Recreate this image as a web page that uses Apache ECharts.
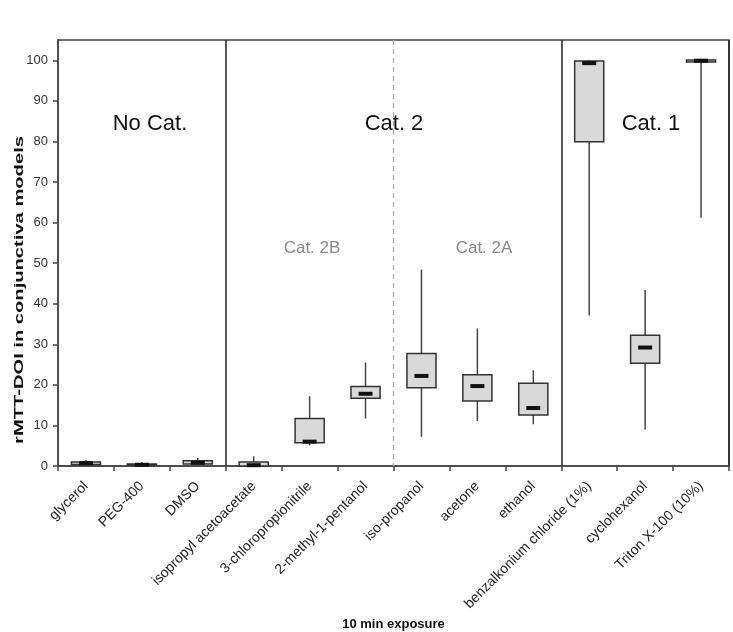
<!DOCTYPE html>
<html>
<head>
    <meta charset="UTF-8">
    <script src="https://cdn.jsdelivr.net/npm/echarts@6/dist/echarts.min.js"></script>
    <title>rMTT-DOI</title>
    <style>
        html, body { margin: 0; padding: 0; background: #fff; }
    </style>
</head>
<body>
    <div id="main" style="width:733px;height:632px;"></div>
    <script type="text/javascript">
        // substances (x axis)
        var categories = ['glycerol', 'PEG-400', 'DMSO', 'isopropyl acetoacetate', '3-chloropropionitrile',
            '2-methyl-1-pentanol', 'iso-propanol', 'acetone', 'ethanol', 'benzalkonium chloride (1%)',
            'cyclohexanol', 'Triton X-100 (10%)'];
        // box plot values
        var boxMin    = [0.3, 0.0, 0.3, 0.0, 5.1, 11.7, 7.2, 11.1, 10.3, 37.1, 9.0, 61.2];
        var boxQ1     = [0.4, 0.1, 0.5, 0.0, 5.7, 16.7, 19.3, 16.0, 12.6, 79.9, 25.3, 99.6];
        var boxMedian = [0.7, 0.3, 0.8, 0.2, 6.0, 17.8, 22.2, 19.7, 14.3, 99.3, 29.2, 99.9];
        var boxQ3     = [1.0, 0.5, 1.3, 1.0, 11.7, 19.6, 27.7, 22.5, 20.4, 99.8, 32.2, 100.1];
        var boxMax    = [1.4, 1.0, 2.0, 2.4, 17.2, 25.5, 48.4, 33.9, 23.6, 100.0, 43.4, 100.1];
        var yTicks = [0, 10, 20, 30, 40, 50, 60, 70, 80, 90, 100];
        // group borders: solid between categories, dashed between 2B and 2A
        var solidBreaks = [3, 9];
        var dashedBreak = 6;

        var rows = categories.map(function (c, i) {
            return [i, boxMin[i], boxQ1[i], boxMedian[i], boxQ3[i], boxMax[i]];
        });

        var font = 'Arial, "Liberation Sans", sans-serif';
        var myChart = echarts.init(document.getElementById('main'));

        function renderBox(params, api) {
            var x = api.value(0);
            var pMin = api.coord([x, api.value(1)]);
            var pQ1 = api.coord([x, api.value(2)]);
            var pMed = api.coord([x, api.value(3)]);
            var pQ3 = api.coord([x, api.value(4)]);
            var pMax = api.coord([x, api.value(5)]);
            var band = api.size([1, 0])[0];
            var bw = band * 0.52;
            var mw = 14;
            var children = [];
            if (x === dashedBreak) {
                var cs = params.coordSys;
                var xb = pMed[0] - band / 2;
                children.push({ type: 'line', shape: { x1: xb, y1: cs.y, x2: xb, y2: cs.y + cs.height },
                    style: { stroke: '#aaa', lineWidth: 1.2, lineDash: [5, 4] } });
            }
            children.push(
                { type: 'line', shape: { x1: pMin[0], y1: pMin[1], x2: pMax[0], y2: pMax[1] },
                  style: { stroke: '#444', lineWidth: 1.5 } },
                { type: 'rect', shape: { x: pQ3[0] - bw / 2, y: pQ3[1], width: bw, height: Math.max(pQ1[1] - pQ3[1], 1) },
                  style: { fill: '#d9d9d9', stroke: '#333', lineWidth: 1.5 } },
                { type: 'rect', shape: { x: pMed[0] - mw / 2, y: pMed[1] - 2, width: mw, height: 4 },
                  style: { fill: '#111' } }
            );
            return { type: 'group', children: children };
        }

        var option = {
            animation: false,
            grid: { left: 58, right: 4, top: 40, bottom: 166, show: true, borderColor: '#444', borderWidth: 1.5,
                outerBoundsMode: 'none', containLabel: false },
            xAxis: {
                type: 'category',
                data: categories,
                axisLine: { lineStyle: { color: '#444', width: 1.5 } },
                axisTick: { show: true, length: 5, lineStyle: { color: '#444', width: 1.5 } },
                axisLabel: { rotate: 45, margin: 18, fontSize: 14, color: '#222', fontFamily: font, interval: 0 },
                splitLine: { show: true, interval: function (i) { return solidBreaks.indexOf(i) >= 0; },
                    lineStyle: { color: '#222', width: 1.5 } },
                name: '10 min exposure',
                nameLocation: 'middle',
                nameGap: 152,
                nameTextStyle: { fontSize: 13, fontWeight: 'bold', color: '#111', fontFamily: font }
            },
            yAxis: {
                type: 'value',
                min: 0,
                max: 105,
                interval: 10,
                axisLine: { show: true, lineStyle: { color: '#444', width: 1.5 } },
                axisTick: { show: true, length: 5, lineStyle: { color: '#444', width: 1.5 } },
                axisLabel: { showMaxLabel: false, margin: 10, fontSize: 13, color: '#333', fontFamily: font,
                    formatter: function (v) { return yTicks.indexOf(v) >= 0 ? String(v) : ''; } },
                splitLine: { show: false }
            },
            graphic: [
                { type: 'text', x: 19, y: 290, rotation: Math.PI / 2, scaleX: 1.55,
                  style: { text: 'rMTT-DOI in conjunctiva models', font: 'bold 13px ' + font, fill: '#111',
                           textAlign: 'center', textVerticalAlign: 'middle' } },
                { type: 'text', x: 150, y: 124, style: { text: 'No Cat.', font: '22px ' + font, fill: '#111', textAlign: 'center', textVerticalAlign: 'middle' } },
                { type: 'text', x: 394, y: 124, style: { text: 'Cat. 2', font: '22px ' + font, fill: '#111', textAlign: 'center', textVerticalAlign: 'middle' } },
                { type: 'text', x: 651, y: 124, style: { text: 'Cat. 1', font: '22px ' + font, fill: '#111', textAlign: 'center', textVerticalAlign: 'middle' } },
                { type: 'text', x: 312, y: 248, style: { text: 'Cat. 2B', font: '17px ' + font, fill: '#888', textAlign: 'center', textVerticalAlign: 'middle' } },
                { type: 'text', x: 484, y: 248, style: { text: 'Cat. 2A', font: '17px ' + font, fill: '#888', textAlign: 'center', textVerticalAlign: 'middle' } }
            ],
            series: [{
                type: 'custom',
                renderItem: renderBox,
                encode: { x: 0, y: [1, 2, 3, 4, 5] },
                data: rows,
                z: 5
            }]
        };

        myChart.setOption(option);
    </script>
</body>
</html>
